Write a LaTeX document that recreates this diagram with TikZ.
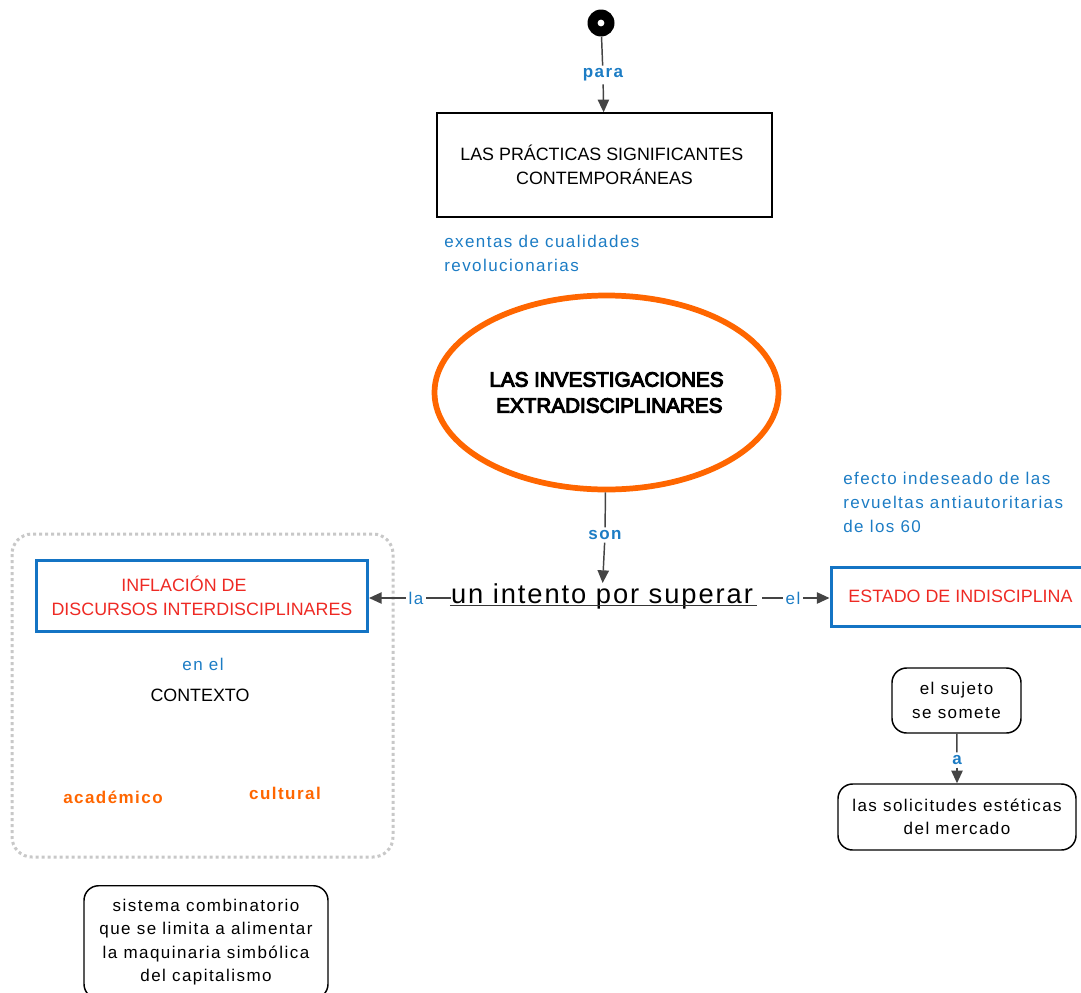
\documentclass[tikz,border=0pt]{standalone}
\usepackage{fontspec}
\setmainfont{Liberation Sans}
\newfontfamily\spaced[LetterSpace=8.5]{Liberation Sans}
\newfontfamily\wide[LetterSpace=7]{Liberation Sans}
\newfontfamily\heavy[FakeBold=5]{Liberation Sans}
\usetikzlibrary{arrows.meta,shapes.geometric}

\definecolor{linkblue}{HTML}{1C7CC4}
\definecolor{boxblue}{HTML}{1474C4}
\definecolor{conceptred}{HTML}{EE2A24}
\definecolor{accent}{HTML}{FF6600}
\definecolor{wire}{HTML}{444444}
\definecolor{framegray}{HTML}{C8C8C8}

\tikzset{
  wirestyle/.style={draw=wire, line width=1.1pt},
  arrowwire/.style={wirestyle, -{Triangle[length=9.5pt,width=8.5pt]}},
  linklabel/.style={text=linkblue, font=\spaced\fontsize{12.75}{18}\selectfont, inner sep=2pt},
  boldlabel/.style={text=linkblue, font=\spaced\bfseries\fontsize{12.75}{18}\selectfont, inner sep=2pt},
  capsbox/.style={draw=black, line width=1.1pt, align=center, font=\fontsize{13.4}{18}\selectfont},
  bluebox/.style={draw=boxblue, line width=2.25pt, align=center, text=conceptred, font=\fontsize{13.4}{18}\selectfont},
  roundbox/.style={draw=black, line width=1.1pt, rounded corners=11pt, align=center, font=\spaced\fontsize{12.75}{17.5}\selectfont},
  plaintext/.style={align=left, text=linkblue, font=\spaced\fontsize{12.75}{18}\selectfont, inner sep=0pt},
  accenttext/.style={text=accent, font=\spaced\bfseries\fontsize{12.75}{18}\selectfont},
}

\begin{document}
\begin{tikzpicture}[x=0.75pt,y=-0.75pt]
\useasboundingbox (0,0) rectangle (1081,992);
\clip (0,0) rectangle (1081,992);

% start marker
\node[circle, fill=black, minimum size=27*0.75pt, inner sep=0pt] (start) at (601,23) {};
\fill[white] (start.center) circle (3.4);

% top concept
\node[capsbox, minimum width=335*0.75pt, minimum height=104*0.75pt] (practicas) at (604.5,165)
  {LAS PRÁCTICAS SIGNIFICANTES\hspace*{4pt}\\CONTEMPORÁNEAS};
\node[boldlabel] (para) at (603,75) {para};
\draw[wirestyle] (start) -- (para);
\draw[arrowwire] (para) -- (practicas);

\node[plaintext, anchor=west] (exentas) at (444,253) {exentas de cualidades\\revolucionarias};

% central ellipse
\node[ellipse, draw=accent, line width=4.3pt, minimum width=344*0.75pt, minimum height=194*0.75pt,
      align=center, font=\heavy\fontsize{15.5}{19.5}\selectfont] (invest) at (606.5,392.5)
  {LAS INVESTIGACIONES\\\ EXTRADISCIPLINARES};

\node[boldlabel] (son) at (605,535) {son};
\node[inner sep=0pt, font=\wide\fontsize{20.5}{22}\selectfont] (intento) at (602,596)
  {un intento por superar};
% underline of the linking phrase, drawn just under its baseline
\draw[wire!80!black, line width=0.85pt] ([shift={(-1,2)}]intento.base west) -- ([shift={(4,2)}]intento.base east);
\draw[wirestyle] (invest) -- (son);
\draw[arrowwire] (son) -- (intento);

% left group
\draw[framegray, line width=2.25pt, dash pattern=on 2.25pt off 2.25pt, rounded corners=15pt]
  (12,534) rectangle (393,857);
\node[bluebox, minimum width=331*0.75pt, minimum height=71*0.75pt] (inflacion) at (202,596)
  {INFLACIÓN DE\hspace*{27pt}\\DISCURSOS INTERDISCIPLINARES};
\node[linklabel] (la) at (416,598) {la};
\draw[wirestyle] (la.east) -- (la.east -| intento.west);
\draw[arrowwire] (la) -- (la -| inflacion.east);

\node[linklabel] (enel) at (203,664) {en el};
\node[font=\fontsize{13.4}{18}\selectfont] (contexto) at (200,695) {CONTEXTO};
\node[accenttext] (academico) at (113,797) {académico};
\node[accenttext] (cultural) at (285,793) {cultural};

% right group
\node[bluebox, minimum width=259*0.75pt, minimum height=59*0.75pt] (estado) at (960.5,596.5)
  {ESTADO DE INDISCIPLINA};
\node[linklabel] (el) at (793,598) {el};
\coordinate (elstart) at (762,598);
\draw[wirestyle] (elstart) -- (el);
\draw[arrowwire] (el) -- (el -| estado.west);

\node[plaintext, anchor=west] (efecto) at (843,502)
  {efecto indeseado de las\\revueltas antiautoritarias\\de los 60};

\node[roundbox, minimum width=129*0.75pt, minimum height=65*0.75pt] (sujeto) at (956.5,700.5)
  {el sujeto\\se somete};
\node[roundbox, minimum width=238*0.75pt, minimum height=66*0.75pt] (solicitudes) at (957,817)
  {las solicitudes estéticas\\del mercado};
\node[boldlabel] (a) at (957,760) {a};
\draw[wirestyle] (sujeto) -- (a);
\draw[arrowwire] (a) -- (solicitudes);

% bottom note, running off the lower edge
\node[roundbox, minimum width=244*0.75pt, minimum height=113*0.75pt, anchor=north] (sistema) at (206,885) {};
\node[align=center, font=\spaced\fontsize{12.75}{17.5}\selectfont] (sistematxt) at (206,942)
  {sistema combinatorio\\que se limita a alimentar\\la maquinaria simbólica\\del capitalismo};
\end{tikzpicture}
\end{document}
